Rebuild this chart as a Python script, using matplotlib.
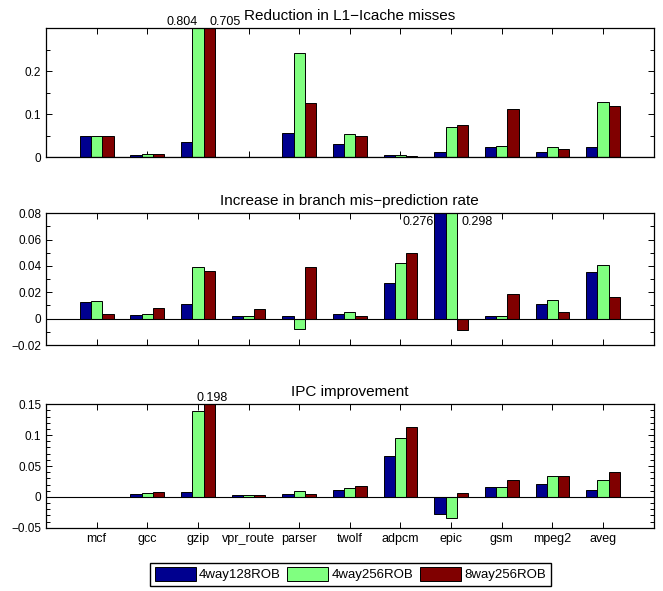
import numpy as np
import matplotlib
matplotlib.use("Agg")
import matplotlib.pyplot as plt
from matplotlib.ticker import MultipleLocator, FuncFormatter

plt.rcParams['font.family'] = ['Liberation Sans', 'DejaVu Sans']

benchmarks = ["mcf", "gcc", "gzip", "vpr_route", "parser", "twolf",
              "adpcm", "epic", "gsm", "mpeg2", "aveg"]
configs = ["4way128ROB", "4way256ROB", "8way256ROB"]
colors = ["#00008F", "#80FF80", "#800000"]

# Reduction in L1-Icache misses
icache_4w128 = [0.050, 0.005, 0.036, 0.001, 0.057, 0.032, 0.005, 0.012, 0.024, 0.012, 0.024]
icache_4w256 = [0.050, 0.007, 0.804, 0.001, 0.242, 0.054, 0.006, 0.070, 0.026, 0.025, 0.128]
icache_8w256 = [0.050, 0.007, 0.705, 0.001, 0.126, 0.049, 0.002, 0.074, 0.112, 0.019, 0.119]

# Increase in branch mis-prediction rate
branch_4w128 = [0.0124, 0.0028, 0.0114, 0.0023, 0.0020, 0.0038, 0.0273, 0.276, 0.0020, 0.0110, 0.0353]
branch_4w256 = [0.0131, 0.0033, 0.0389, 0.0020, -0.0078, 0.0050, 0.0420, 0.298, 0.0020, 0.0139, 0.0410]
branch_8w256 = [0.0038, 0.0081, 0.0363, 0.0073, 0.0390, 0.0020, 0.0500, -0.0083, 0.0190, 0.0053, 0.0164]

# IPC improvement
ipc_4w128 = [-0.001, 0.0043, 0.0076, 0.0027, 0.0043, 0.0103, 0.067, -0.027, 0.0157, 0.0216, 0.0108]
ipc_4w256 = [-0.001, 0.0065, 0.139, 0.0030, 0.0097, 0.0146, 0.0946, -0.035, 0.0157, 0.0346, 0.028]
ipc_8w256 = [-0.001, 0.0076, 0.198, 0.0027, 0.0054, 0.0173, 0.1135, 0.0065, 0.028, 0.0346, 0.041]

titles = ["Reduction in L1\u2212Icache misses",
          "Increase in branch mis\u2212prediction rate",
          "IPC improvement"]
ylims = [(0, 0.3), (-0.02, 0.08), (-0.05, 0.15)]
yticks = [[0, 0.1, 0.2],
          [-0.02, 0, 0.02, 0.04, 0.06, 0.08],
          [-0.05, 0, 0.05, 0.1, 0.15]]
yminor = [0.05, 0.01, 0.01]

W, H = 663, 591
fig = plt.figure(figsize=(W / 100, H / 100), dpi=100)

# axes boxes in pixels: (left, top, right, bottom)
boxes = [(46, 28, 653.7, 157.3), (46, 213.3, 653.7, 345), (46, 404.3, 653.7, 527.7)]

series = [[icache_4w128, icache_4w256, icache_8w256],
          [branch_4w128, branch_4w256, branch_8w256],
          [ipc_4w128, ipc_4w256, ipc_8w256]]

x = np.arange(1, len(benchmarks) + 1)
bw = 2 / 9.0


def fmt(v, pos):
    s = "%g" % round(v, 4)
    return s.replace("-", "\u2212")


axes = []
for i, (l, t, r, b) in enumerate(boxes):
    ax = fig.add_axes([l / W, 1 - b / H, (r - l) / W, (b - t) / H])
    axes.append(ax)
    handles = []
    for j, vals in enumerate(series[i]):
        h = ax.bar(x + (j - 1) * bw, vals, width=bw, color=colors[j],
                   edgecolor="black", linewidth=0.7, label=configs[j], zorder=2)
        handles.append(h)
    ax.axhline(0, color="black", linewidth=0.8, zorder=3)
    ax.set_xlim(0, 12)
    ax.set_ylim(*ylims[i])
    ax.set_yticks(yticks[i])
    ax.yaxis.set_minor_locator(MultipleLocator(yminor[i]))
    ax.yaxis.set_major_formatter(FuncFormatter(fmt))
    ax.set_xticks(x)
    if i == 2:
        ax.set_xticklabels(benchmarks, fontsize=9)
    else:
        ax.set_xticklabels([])
    ax.tick_params(axis="both", which="both", direction="in", top=True, right=True)
    ax.tick_params(axis="both", which="major", length=4, width=0.7)
    ax.tick_params(axis="y", which="minor", length=3, width=0.7)
    ax.tick_params(axis="y", labelsize=8.5)
    for sp in ax.spines.values():
        sp.set_linewidth(0.9)
    ax.set_title(titles[i], fontsize=11, pad=6)

# values that run off the top of the axes
ax = axes[0]
ax.text(x[2], 0.3, "%.3f" % icache_4w256[2], ha="right", va="bottom", fontsize=9)
ax.text(x[2] + bw, 0.3, "%.3f" % icache_8w256[2], ha="left", va="bottom", fontsize=9)
ax = axes[1]
ax.text(x[7] - 0.35, 0.0736, "%.3f" % branch_4w128[7], ha="right", va="center", fontsize=9)
ax.text(x[7] + 0.21, 0.0736, "%.3f" % branch_4w256[7], ha="left", va="center", fontsize=9)
ax = axes[2]
ax.text(x[2] + 0.28, 0.15, "%.3f" % ipc_8w256[2], ha="center", va="bottom", fontsize=9)

fig.legend(handles=handles, labels=configs, ncol=3, loc="center",
           bbox_to_anchor=(350.3 / W, 1 - 574.3 / H), fontsize=9.5,
           frameon=True, fancybox=False, edgecolor="black", framealpha=1,
           handlelength=3.1, handleheight=1.2, handletextpad=0.25,
           columnspacing=0.5, borderpad=0.35, borderaxespad=0)

fig.savefig("out.png", dpi=100)
